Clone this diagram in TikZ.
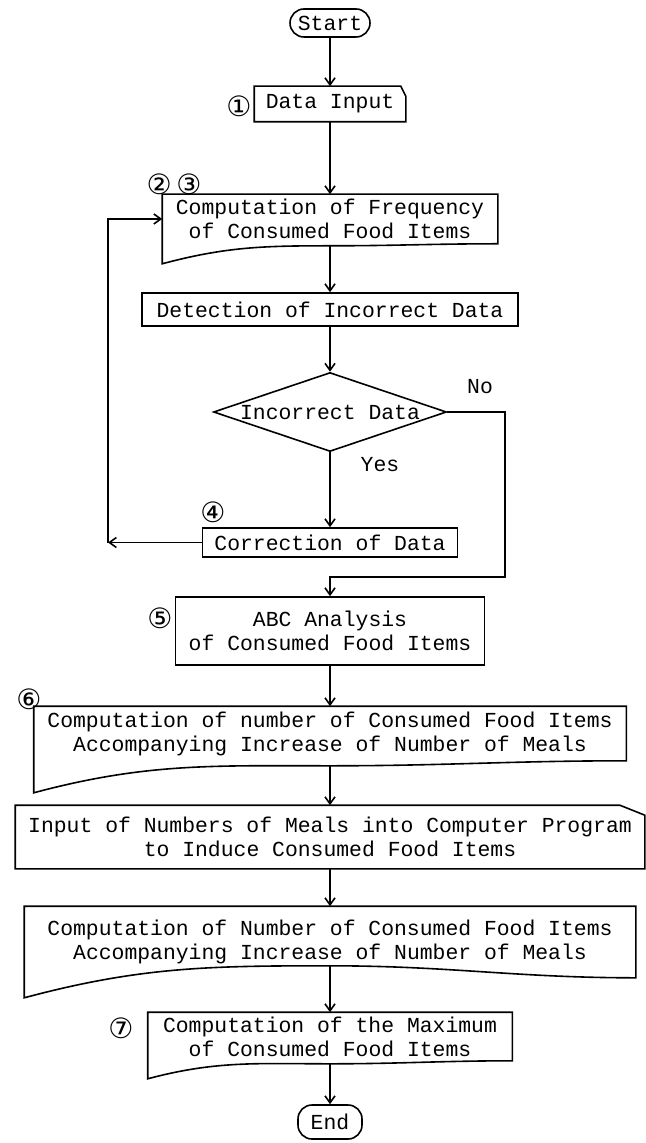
\documentclass[tikz,border=0pt]{standalone}
\usepackage{fontspec}
\usepackage{tikz}
\usetikzlibrary{shapes.geometric,calc,arrows.meta}
\newfontfamily\flowfont{Liberation Mono}
\newfontfamily\circfont{DejaVu Sans}

% document symbol: name, dip of left corner, offset of wave middle
\newcommand{\docbox}[3]{%
	\coordinate (#1-wave) at ($(#1.south)+(0,#3)$);
	\draw (#1-wave) to[out=0,in=180] (#1.south east) -- (#1.north east) -- (#1.north west)
		-- ($(#1.south west)+(0,#2)$) to[out=15,in=180] (#1-wave);}
% box with cut corner: name, cut width, cut height
\newcommand{\cardbox}[3]{%
	\draw (#1.south west) -- (#1.north west) -- ($(#1.north east)+(-#2,0)$)
		-- ($(#1.north east)+(0,#3)$) -- (#1.south east) -- cycle;}

\begin{document}
\begin{tikzpicture}[x=0.5pt,y=-0.5pt,line width=0.8pt,
	>={Straight Barb[length=3.5pt,width=5pt]},
	every node/.style={font=\flowfont\fontsize{10.7}{12}\selectfont},
	box/.style={inner sep=0pt,align=center},
	term/.style={box,draw,rounded corners=7pt},
	num/.style={font=\circfont\fontsize{14}{14}\selectfont}]
	\useasboundingbox (0,0) rectangle (646,1143);

	\node[term,minimum width=40pt,minimum height=14pt] (start) at (330,23) {Start};
	\node[box,minimum width=75pt,minimum height=17pt] (input) at (330,104) {Data Input};
	\node[box,minimum width=167pt,minimum height=24pt] (freq) at (330,219) {Computation of Frequency\\of Consumed Food Items};
	\node[box,draw,minimum width=188pt,minimum height=16.5pt] (detect) at (330,309.5) {Detection of Incorrect Data};
	\node[box,draw,diamond,aspect=2.95,minimum width=116.5pt,minimum height=39.5pt] (check) at (330,412) {Incorrect Data};
	\node[box,draw,minimum width=127.5pt,minimum height=14.5pt] (corr) at (330,542.5) {Correction of Data};
	\node[box,draw,minimum width=154.5pt,minimum height=34pt] (abc) at (330,631) {ABC Analysis\\of Consumed Food Items};
	\node[box,minimum width=295.5pt,minimum height=26.5pt] (consume) at (330,733.5) {Computation of number of Consumed Food Items\\Accompanying Increase of Number of Meals};
	\node[box,minimum width=314pt,minimum height=31pt] (meals) at (330,837) {Input of Numbers of Meals into Computer Program\\to Induce Consumed Food Items};
	\node[box,minimum width=305pt,minimum height=35pt] (compute2) at (330,942) {Computation of Number of Consumed Food Items\\Accompanying Increase of Number of Meals};
	\node[box,minimum width=181.5pt,minimum height=23.5pt] (maxim) at (330,1036.5) {Computation of the Maximum\\of Consumed Food Items};
	\node[term,minimum width=32pt,minimum height=17pt] (end) at (330,1122) {End};

	\cardbox{input}{5}{10}
	\docbox{freq}{20}{2}
	\docbox{consume}{32}{5}
	\cardbox{meals}{25}{10}
	\docbox{compute2}{20}{-12}
	\docbox{maxim}{18}{3}

	\node[num] (n1) at (239,106) {①};
	\node[num] (n23) at (174,184) {②\,③};
	\node[num] (n4) at (213,512) {④};
	\node[num] (n5) at (160,618) {⑤};
	\node[num] (n6) at (29,699) {⑥};
	\node[num] (n7) at (121,1028) {⑦};
	\node (no) at (480,387) {No};
	\node (yes) at (380,465) {Yes};

	\coordinate (back) at (108,542.5);
	\coordinate (nocorner) at (505,577);

	\path [->] (start) edge (input);
	\path [->] (input) edge (freq);
	\path [->] (freq-wave) edge (detect);
	\path [->] (detect) edge (check);
	\path [->] (check) edge (corr);
	\path [->] (corr) edge (back);
	\draw [->] (back) |- (freq.west);
	\draw [->] (check.east) -| (nocorner) -| (abc.north);
	\path [->] (abc) edge (consume);
	\path [->] (consume-wave) edge (meals);
	\path [->] (meals) edge (compute2);
	\path [->] (compute2-wave) edge (maxim);
	\path [->] (maxim-wave) edge (end);
\end{tikzpicture}
\end{document}
